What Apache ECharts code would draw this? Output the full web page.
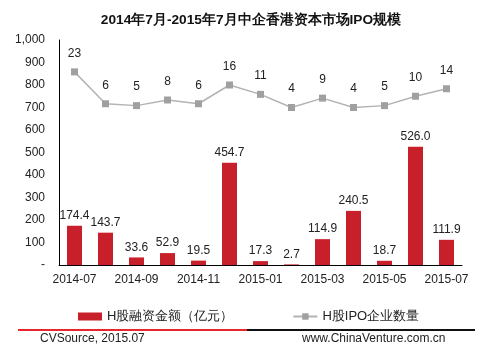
<!DOCTYPE html>
<html><head><meta charset="utf-8">
<script src="https://cdn.jsdelivr.net/npm/echarts@6/dist/echarts.min.js"></script>
<style>html,body{margin:0;padding:0;background:#fff}#c{width:484px;height:351px}</style>
</head><body><div id="c"></div>
<script>
const categories = ['2014-07','2014-08','2014-09','2014-10','2014-11','2014-12','2015-01','2015-02','2015-03','2015-04','2015-05','2015-06','2015-07'];
const amount = [174.4,143.7,33.6,52.9,19.5,454.7,17.3,2.7,114.9,240.5,18.7,526.0,111.9];
const count = [23,6,5,8,6,16,11,4,9,4,5,10,14];
const yTicks = [0,100,200,300,400,500,600,700,800,900,1000];
const FONT = '"Liberation Sans", Arial, sans-serif';
const chart = echarts.init(document.getElementById('c'));
chart.setOption({
  animation:false,
  textStyle:{fontFamily:FONT},
  title:{text:'2014年7月-2015年7月中企香港资本市场IPO规模',left:246,textAlign:'center',top:8,
    textStyle:{fontSize:13.7,fontWeight:'bold',color:'#111',fontFamily:FONT}},
  grid:{left:59,right:22,top:40,bottom:86},
  legend:{top:310,left:78,padding:0,itemGap:59,itemWidth:24,itemHeight:8,
    textStyle:{fontSize:13,color:'#222',fontFamily:FONT},
    data:[{name:'H股融资金额（亿元）',icon:'rect'},{name:'H股IPO企业数量'}]},
  xAxis:{type:'category',data:categories,
    axisLine:{lineStyle:{color:'#000',width:1}},axisTick:{show:false},
    axisLabel:{interval:1,color:'#222',fontSize:12,margin:9}},
  yAxis:[{type:'value',min:0,max:1000,interval:100,
    axisLine:{show:true,lineStyle:{color:'#000'}},axisTick:{show:false},splitLine:{show:false},
    axisLabel:{color:'#222',fontSize:12,margin:14,formatter:v=>v===0?'-':(v>=1000?v.toLocaleString('en-US'):String(v))}},
    {type:'value',min:-80,max:40,show:false,splitLine:{show:false}}],
  series:[
    {name:'H股融资金额（亿元）',type:'bar',data:amount,barWidth:15,itemStyle:{color:'#C8202A'},
     label:{show:true,position:'top',distance:4,color:'#222',fontSize:12,formatter:p=>p.value.toFixed(1)}},
    {name:'H股IPO企业数量',type:'line',yAxisIndex:1,data:count,symbol:'rect',symbolSize:7,
     lineStyle:{color:'#B3B3B3',width:1.5},itemStyle:{color:'#A0A0A0'},
     label:{show:true,position:'top',distance:9,color:'#222',fontSize:12}}
  ],
  graphic:[
    {type:'rect',shape:{x:18,y:329,width:229,height:2},style:{fill:'#E8262B'}},
    {type:'rect',shape:{x:247,y:329,width:228,height:2},style:{fill:'#111'}},
    {type:'text',left:40,top:333,style:{text:'CVSource, 2015.07',font:'12px '+FONT,fill:'#222'}},
    {type:'text',left:302,top:333,style:{text:'www.ChinaVenture.com.cn',font:'12px '+FONT,fill:'#222'}}
  ]
});
</script></body></html>
